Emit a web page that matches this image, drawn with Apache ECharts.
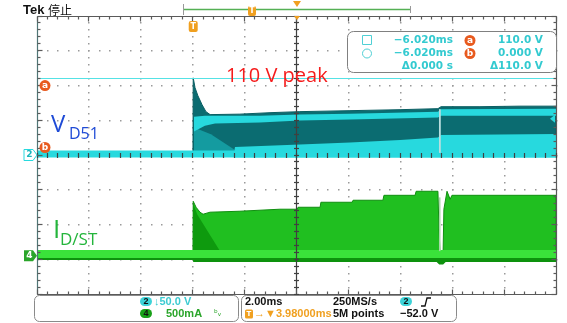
<!DOCTYPE html>
<html><head><meta charset="utf-8">
<script src="https://cdn.jsdelivr.net/npm/echarts@6/dist/echarts.min.js"></script>
<style>html,body{margin:0;padding:0;background:#fff}#c{width:567px;height:323px}</style>
</head><body><div id="c"></div>
<script>
// ---- scope settings ----
const timeTicks = [-10, -8, -6, -4, -2, 0, 2, 4, 6, 8, 10];   // ms (screen time, 2 ms/div)
const divTicks = [-4, -3, -2, -1, 0, 1, 2, 3, 4];             // vertical divisions
const minorPerDiv = 5;
const triggerTime = -3.98;            // ms
const ch2Scale = 50;                  // V/div
const ch4Scale = 500;                 // mA/div
const ch2Offset = 0;                  // div
const ch4Offset = -2.9;               // div
const cursorA = 110;                  // V
const cursorB = 0;                    // V
const ch2Marker = 52;                 // V (right-edge arrow)

// ---- CH2 (V_D51) bands : [time ms, low V, high V] ----
const vEnvelope = [[-3.99,2.2,5],[-3.98,2.2,111],[-3.91,2.2,96.8],[-3.80,2.2,85.3],[-3.64,2.2,72.4],[-3.49,2.2,62.4],[-3.33,2.2,58.1],[-2.18,2.2,58.8],[-1.02,2.2,60.9],[0.13,2.2,62.4],[2.06,2.2,63.8],[3.99,2.2,65.2],[5.45,2.2,66.7],[5.57,2.2,69.5],[7.07,2.2,69.5],[8.61,2.2,70.3],[10,2.2,70.3]];
const vWedge = [[-3.95,5,39.4],[-3.30,5,30],[-2.40,5,7.9]];
const vUpperStripe = [[-3.95,33.7,55.2],[-3.53,42,56.6],[-3.14,45.2,56.6],[-1.41,46.6,56.6],[0.13,49.5,58.1],[2.06,51,59.5],[5.45,53.8,62.4],[5.57,56.6,66],[10,56.6,66.7]];
const vLowerBand = [[-2.40,-3.6,5],[-2.37,-3.6,11.5],[0.13,-3.6,15.1],[2.06,-3.6,17.9],[3.99,-3.6,21.5],[5.45,-3.6,25.1],[5.57,-3.6,28.7],[10,-3.6,30.1]];
const vBase = [[-10,-3.6,6.5],[10,-3.6,6.5]];
const vGlitch = [[5.49,3,66],[5.56,3,66]];

// ---- CH4 (I_D/ST) bands : [time ms, low mA, high mA] ----
const iDark = [[-10,-62,82],[-3.99,-62,82],[-3.98,-90,82],[5.40,-90,82],[5.50,-125,82],[5.65,-125,82],[5.75,-90,82],[10,-90,82]];
const iMain = [[-3.99,53,60],[-3.98,53,784],[-3.87,53,698],[-3.72,53,627],[-3.60,53,598],[-3.33,53,627],[-2.18,53,641],[-0.64,53,670],[0.02,53,670],[0.06,53,698],[0.91,53,698],[0.94,53,770],[2.14,53,770],[2.18,53,799],[3.33,53,799],[3.37,53,870],[4.57,53,870],[4.61,53,928],[5.45,53,928],[5.49,53,383],[5.53,53,67],[5.65,53,67],[5.68,53,670],[5.80,53,928],[5.92,53,813],[5.99,53,870],[10,53,870]];
const iWedge = [[-3.98,67,756],[-3.83,67,598],[-2.95,67,67]];
const iBase = [[-10,-33,82],[10,-33,82]];
const iGlitch = [[5.49,67,840],[5.55,67,840]];

// ---- colours ----
const COL = {
  cyan:'#27d9de', cyanDark:'#0b6c71', cyanMid:'#149ba0', cyanCursor:'#55e2e5', glitch:'#b9dede',
  green:'#3ae23a', greenMain:'#20bf20', greenDark:'#0d920d', greenWedge:'#0e9a0e', greenGlitch:'#a8d8a8',
  orange:'#f0a020', curs:'#e85a1e', dot:'#9a9a9a', border:'#5a5a5a', tick:'#5a5a5a', centre:'#404040'
};

const toV = v => ch2Offset + v / ch2Scale;
const toI = i => ch4Offset + i / ch4Scale;

function band(data, conv, fill, stroke) {
  return {
    type: 'custom', xAxisIndex: 0, yAxisIndex: 0, silent: true, animation: false, z: 2,
    data: data, encode: { x: 0, y: [1, 2] },
    renderItem: function (params, api) {
      if (params.dataIndex !== 0) return null;
      const pts = [];
      for (const d of data) pts.push(api.coord([d[0], conv(d[2])]));
      for (let i = data.length - 1; i >= 0; i--) pts.push(api.coord([data[i][0], conv(data[i][1])]));
      return { type: 'polygon', shape: { points: pts },
        style: { fill: fill, stroke: stroke || null, lineWidth: stroke ? 1 : 0 } };
    }
  };
}

const xMin = timeTicks[0], xMax = timeTicks[timeTicks.length - 1];
const yMin = divTicks[0], yMax = divTicks[divTicks.length - 1];
const GRID = { left: 37, right: 11, top: 16, bottom: 29 };
const hiddenAxis = { type: 'value', axisLabel: { show: false }, splitLine: { show: false },
  axisLine: { show: false }, axisTick: { show: false } };

const chart = echarts.init(document.getElementById('c'), null, { renderer: 'canvas' });
chart.setOption({
  animation: false,
  backgroundColor: '#ffffff',
  grid: Object.assign({ show: false }, GRID),
  xAxis: Object.assign({}, hiddenAxis, { min: xMin, max: xMax, interval: 2 }),
  yAxis: Object.assign({}, hiddenAxis, { min: yMin, max: yMax, interval: 1 }),
  series: [
    band(iDark, toI, COL.greenDark),
    band(iMain, toI, COL.greenMain, '#108f10'),
    band(iWedge, toI, COL.greenWedge),
    band(iBase, toI, COL.green),
    band(iGlitch, toI, COL.greenGlitch),
    band(vEnvelope, toV, COL.cyanDark, '#0a5f63'),
    band(vWedge, toV, COL.cyanMid),
    band(vUpperStripe, toV, COL.cyan),
    band(vLowerBand, toV, COL.cyan),
    band(vBase, toV, COL.cyan),
    band(vGlitch, toV, COL.glitch),
    { type: 'line', xAxisIndex: 0, yAxisIndex: 0, data: [], silent: true, z: 3,
      markLine: { silent: true, symbol: ['none', 'none'], animation: false, label: { show: false },
        lineStyle: { color: COL.cyanCursor, width: 1, type: 'solid' },
        data: [{ yAxis: toV(cursorA) }] } }
  ]
});

// ---- graticule + overlay chrome, placed through the axis scales ----
const P = (t, d) => chart.convertToPixel({ xAxisIndex: 0, yAxisIndex: 0 }, [t, d]);
const crisp = p => Math.round(p - 0.5) + 0.5;
function minors(ticks) {
  const out = [];
  for (let i = 0; i < ticks.length - 1; i++) {
    const a = ticks[i], b = ticks[i + 1];
    for (let k = 0; k < minorPerDiv; k++) out.push({ v: a + (b - a) * k / minorPerDiv, major: k === 0 });
  }
  out.push({ v: ticks[ticks.length - 1], major: true });
  return out;
}
const g = [];
function ln(x1, y1, x2, y2, c, z, w) { g.push({ type: 'line', z: z, silent: true, shape: { x1: x1, y1: y1, x2: x2, y2: y2 }, style: { stroke: c, lineWidth: w || 1 } }); }
const xs = minors(timeTicks), ys = minors(divTicks);
const L = crisp(P(xMin, 0)[0]), R = crisp(P(xMax, 0)[0]);
const T = crisp(P(0, yMax)[1]), B = crisp(P(0, yMin)[1]);
const CX = crisp(P(0, 0)[0]), CY = crisp(P(0, 0)[1]);
// dotted grid (under traces)
for (const xm of timeTicks.slice(1, -1)) {
  const px = Math.floor(P(xm, 0)[0]);
  for (const y of ys) g.push({ type: 'rect', z: 1, silent: true, shape: { x: px, y: Math.floor(P(0, y.v)[1]), width: 1.5, height: 1.5 }, style: { fill: COL.dot } });
}
for (const ym of divTicks.slice(1, -1)) {
  const py = Math.floor(P(0, ym)[1]);
  for (const x of xs) g.push({ type: 'rect', z: 1, silent: true, shape: { x: Math.floor(P(x.v, 0)[0]), y: py, width: 1.5, height: 1.5 }, style: { fill: COL.dot } });
}
// frame & crosshair (over traces)
ln(L, T, R, T, COL.border, 5, 1.2); ln(L, B, R, B, COL.border, 5, 1.2);
ln(L, T, L, B, '#4f7676', 5, 1.2); ln(R, T, R, B, COL.border, 5, 1.2);
ln(CX, T, CX, B, COL.centre, 5, 1.2);
for (const x of xs) {
  const px = crisp(P(x.v, 0)[0]);
  const len = x.major ? 5 : 3;
  ln(px, T, px, T + len, COL.tick, 5, 1.2); ln(px, B - len, px, B, COL.tick, 5, 1.2);
  ln(px, CY - 2.5, px, CY + 2.5, COL.centre, 5, 1.2);
}
for (const y of ys) {
  const py = crisp(P(0, y.v)[1]);
  const len = y.major ? 5 : 3;
  ln(L, py, L + len, py, COL.tick, 5, 1.2); ln(R - len, py, R, py, COL.tick, 5, 1.2);
  ln(CX - 2.5, py, CX + 2.5, py, COL.centre, 5, 1.2);
}

const yA = P(0, toV(cursorA))[1], yB = P(0, toV(cursorB))[1];
const y2 = P(0, ch2Offset)[1], y4 = P(0, ch4Offset)[1];
const xT = P(triggerTime, 0)[0];
const yM = P(0, toV(ch2Marker))[1];
const xL = P(xMin, 0)[0], xR = P(xMax, 0)[0];

function txt(x, y, text, font, fill, align, va) {
  return { type: 'text', x: x, y: y, z: 100, silent: true,
    style: { text: text, font: font, fill: fill, align: align || 'left', verticalAlign: va || 'middle' } };
}
function circ(cx, cy, r, fill, letter) {
  return [{ type: 'circle', z: 99, silent: true, shape: { cx: cx, cy: cy, r: r }, style: { fill: fill } },
    txt(cx, cy, letter, 'bold 9px "DejaVu Sans"', '#fff', 'center', 'middle')];
}
const MF = 'bold 10.5px "DejaVu Sans"';
const SF = 'bold 11px "Liberation Sans"';
// header
g.push(txt(23, 10, 'Tek', 'bold 13px "Liberation Sans"', '#111'));
g.push(txt(48, 10, '停止', '12px "Noto Sans CJK SC"', '#111'));
g.push({ type: 'line', z: 99, silent: true, shape: { x1: 183, y1: 9.5, x2: 410, y2: 9.5 }, style: { stroke: '#55b055', lineWidth: 1.5 } });
g.push({ type: 'line', z: 99, silent: true, shape: { x1: 183.5, y1: 4, x2: 183.5, y2: 15 }, style: { stroke: '#999', lineWidth: 1 } });
g.push({ type: 'line', z: 99, silent: true, shape: { x1: 410.5, y1: 6, x2: 410.5, y2: 13 }, style: { stroke: '#999', lineWidth: 1 } });
g.push({ type: 'rect', z: 99, silent: true, shape: { x: 248, y: 6, width: 8, height: 10, r: 2 }, style: { fill: COL.orange } });
g.push(txt(252, 11, 'T', 'bold 8px "DejaVu Sans"', '#fff', 'center'));
g.push({ type: 'polygon', z: 99, silent: true, shape: { points: [[293, 1], [301, 1], [297, 7]] }, style: { fill: COL.orange } });
g.push({ type: 'polygon', z: 99, silent: true, shape: { points: [[294, 16], [300, 16], [297, 20]] }, style: { fill: COL.orange } });
// trigger marker
g.push({ type: 'rect', z: 99, silent: true, shape: { x: xT - 4.5, y: 21, width: 9, height: 11, r: 2 }, style: { fill: COL.orange } });
g.push(txt(xT, 26.5, 'T', 'bold 8px "DejaVu Sans"', '#fff', 'center'));
// cursor markers
g.push(...circ(xL + 8, yA + 7, 5.5, COL.curs, 'a'));
g.push(...circ(xL + 8, yB - 7.5, 5.5, COL.curs, 'b'));
// channel markers
g.push({ type: 'polygon', z: 99, silent: true, shape: { points: [[24, y2 - 5.5], [33, y2 - 5.5], [37, y2], [33, y2 + 5.5], [24, y2 + 5.5]] }, style: { fill: '#fff', stroke: COL.cyan, lineWidth: 1 } });
g.push(txt(29.5, y2, '2', 'bold 9px "DejaVu Sans"', '#1bb7bd', 'center'));
g.push({ type: 'polygon', z: 99, silent: true, shape: { points: [[24, y4 - 5.5], [33, y4 - 5.5], [37, y4], [33, y4 + 5.5], [24, y4 + 5.5]] }, style: { fill: '#2aa52a' } });
g.push(txt(29.5, y4, '4', 'bold 9px "DejaVu Sans"', '#fff', 'center'));
g.push({ type: 'polygon', z: 99, silent: true, shape: { points: [[xR - 1, yM - 4], [xR - 1, yM + 4], [xR - 6, yM]] }, style: { fill: COL.cyan } });
// annotations
g.push(txt(226, 76.5, '110 V peak', '20px "Open Sans"', '#f51c1c'));
g.push(txt(51, 125, 'V', '24px "Open Sans"', '#1f4bd6'));
g.push(txt(69, 134.5, 'D51', '16px "Open Sans"', '#1f4bd6'));
g.push(txt(53, 231, 'I', '26px "Open Sans"', '#24b53c'));
g.push(txt(60, 240.5, 'D/ST', '17px "Open Sans"', '#24b53c'));
// measurement box
g.push({ type: 'rect', z: 98, silent: true, shape: { x: 347.5, y: 31.5, width: 209, height: 41, r: 6 }, style: { fill: '#fff', stroke: '#808080', lineWidth: 1 } });
g.push({ type: 'rect', z: 99, silent: true, shape: { x: 362.5, y: 35.5, width: 9, height: 9 }, style: { fill: 'none', stroke: '#4fd0d5', lineWidth: 1 } });
g.push({ type: 'circle', z: 99, silent: true, shape: { cx: 367, cy: 53.5, r: 4.5 }, style: { fill: 'none', stroke: '#4fd0d5', lineWidth: 1 } });
g.push(txt(453, 40.5, '−6.020ms', MF, '#33cad0', 'right'));
g.push(txt(453, 53.5, '−6.020ms', MF, '#33cad0', 'right'));
g.push(txt(453, 66.5, 'Δ0.000 s', MF, '#33cad0', 'right'));
g.push(...circ(470, 40.5, 5.5, COL.curs, 'a'));
g.push(...circ(470, 53.5, 5.5, COL.curs, 'b'));
g.push(txt(543, 40.5, '110.0 V', MF, '#33cad0', 'right'));
g.push(txt(543, 53.5, '0.000 V', MF, '#33cad0', 'right'));
g.push(txt(543, 66.5, 'Δ110.0 V', MF, '#33cad0', 'right'));
// status boxes
g.push({ type: 'rect', z: 98, silent: true, shape: { x: 34.5, y: 295.5, width: 204, height: 26, r: 5 }, style: { fill: '#fff', stroke: '#8a8a8a', lineWidth: 1 } });
g.push({ type: 'rect', z: 98, silent: true, shape: { x: 241.5, y: 295.5, width: 215, height: 26, r: 5 }, style: { fill: '#fff', stroke: '#8a8a8a', lineWidth: 1 } });
g.push({ type: 'rect', z: 99, silent: true, shape: { x: 140, y: 297, width: 12, height: 9, r: 4.5 }, style: { fill: '#3dd3d8' } });
g.push(txt(146, 301.8, '2', 'bold 9px "Liberation Sans"', '#111', 'center'));
g.push(txt(154, 302, '↓50.0 V', SF, '#3ccbd2'));
g.push({ type: 'rect', z: 99, silent: true, shape: { x: 140, y: 309, width: 12, height: 9, r: 4.5 }, style: { fill: '#18a018' } });
g.push(txt(146, 313.8, '4', 'bold 9px "Liberation Sans"', '#111', 'center'));
g.push(txt(166, 314, '500mA', SF, '#2aa52a'));
g.push(txt(214, 314, 'ᵇᵥ', '9px "DejaVu Sans"', '#2aa52a'));
g.push(txt(245, 302, '2.00ms', SF, '#111'));
g.push(txt(333, 302, '250MS/s', SF, '#111'));
g.push({ type: 'rect', z: 99, silent: true, shape: { x: 400, y: 297, width: 12, height: 9, r: 4.5 }, style: { fill: '#3dd3d8' } });
g.push(txt(406, 301.8, '2', 'bold 9px "Liberation Sans"', '#111', 'center'));
g.push({ type: 'polyline', z: 99, silent: true, shape: { points: [[421, 306], [425, 306], [427, 298], [431, 298]] }, style: { stroke: '#111', lineWidth: 1.3, fill: null } });
g.push({ type: 'rect', z: 99, silent: true, shape: { x: 245, y: 309.5, width: 8, height: 9, r: 1.5 }, style: { fill: COL.orange } });
g.push(txt(249, 314, 'T', 'bold 7px "DejaVu Sans"', '#fff', 'center'));
g.push(txt(254, 314, '→▼3.98000ms', SF, COL.orange));
g.push(txt(333, 314, '5M points', SF, '#111'));
g.push(txt(400, 314, '−52.0 V', SF, '#111'));

chart.setOption({ graphic: g });
</script>
</body></html>
